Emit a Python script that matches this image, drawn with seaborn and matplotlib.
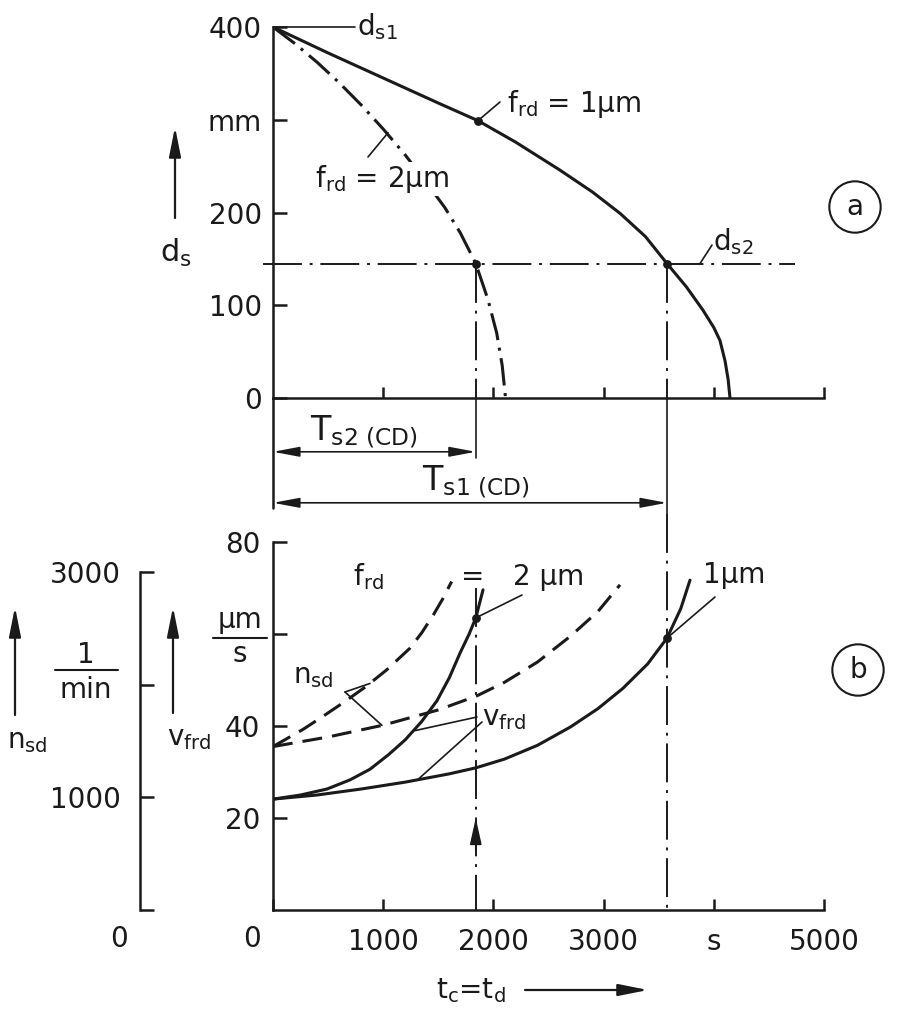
"""
Tool life plot: wheel diameter d_s over time (a) and feed / speed over time (b).
"""

import matplotlib
matplotlib.use('Agg')
import matplotlib.pyplot as plt
import seaborn as sns

# figure size in pixels
W, H = 903, 1024

# tool life end points and diameters
T_S2 = 1840
T_S1 = 3575
D_S1 = 400
D_S2 = 145

# (a) wheel diameter over time
t_ds_1um = [0, 500, 1000, 1500, 1860, 2200, 2600, 2900, 3150, 3380, 3575, 3750, 3900,
            4000, 4056, 4102, 4130, 4147]
ds_1um = [400, 372, 345, 318, 299, 276, 246, 222, 199, 174, 145, 120, 95,
          76, 62, 40, 20, 0]
t_ds_2um = [0, 200, 400, 600, 800, 1000, 1200, 1400, 1561, 1700, 1840, 1951, 2030,
            2080, 2110]
ds_2um = [400, 382, 362, 340, 316, 290, 262, 231, 205, 178, 145, 106, 70,
          35, 0]

# (b) feed rate v_frd [µm/s]
t_v_2um = [0, 250, 490, 700, 880, 1050, 1200, 1350, 1488, 1600, 1700, 1780, 1840, 1906]
v_2um = [24.1, 25.0, 26.3, 28.3, 30.6, 33.8, 37.0, 41.0, 45.5, 50.5, 56.0, 60.0, 63.5, 69.6]
t_v_1um = [0, 400, 800, 1200, 1600, 1840, 2100, 2400, 2700, 2950, 3176, 3400, 3575,
           3700, 3784]
v_1um = [24.1, 25.0, 26.3, 27.8, 29.6, 30.9, 32.8, 35.8, 39.8, 43.8, 48.2, 53.5, 59.1,
         65.5, 71.7]

# (b) wheel speed n_sd [1/min]
t_n_2um = [0, 275, 450, 638, 840, 1031, 1243, 1350, 1455, 1540, 1621]
n_2um = [1450, 1604, 1716, 1840, 1980, 2130, 2323, 2460, 2618, 2760, 2914]
t_n_1um = [0, 500, 1000, 1500, 1850, 2100, 2400, 2700, 2950, 3149]
n_1um = [1450, 1535, 1640, 1775, 1900, 2020, 2200, 2430, 2650, 2885]

# marked points
mark_top_t = [1860, T_S2, T_S1]
mark_top_d = [299, D_S2, D_S2]
mark_bot_t = [T_S2, T_S1]
mark_bot_v = [63.5, 59.1]

# ticks
t_ticks = [0, 1000, 2000, 3000, 4000, 5000]
t_ticklabels = ['', '1000', '2000', '3000', 's', '5000']
ds_ticks = [0, 100, 200, 300, 400]
ds_ticklabels = ['0', '100', '200', 'mm', '400']
v_ticks = [20, 40, 60, 80]
v_ticklabels = ['20', '40', '', '80']
n_ticks = [0, 1000, 2000, 3000]
n_ticklabels = ['', '1000', '', '3000']

sns.set_theme(style='white')
plt.rcParams['font.family'] = ['DejaVu Sans']
plt.rcParams['mathtext.default'] = 'regular'

lw = 2.2       # curves
lwAx = 1.8     # axes
lwThin = 1.2   # leaders, guide lines
fs = 20
DASHDOT = (0, (20, 4, 1.5, 4))
CURVE_DASHDOT = (0, (9, 2.5, 1, 2.5))
DASHED = (0, (6.5, 3.3))

fig = plt.figure(figsize=(W / 100, H / 100), dpi=100)
axT = fig.add_axes([273 / W, 1 - 398 / H, 551 / W, 371 / H])
axB = fig.add_axes([273 / W, 1 - 910 / H, 551 / W, 368 / H])
axN = axB.twinx()


def pix(x, y):
    """ top-left pixel position -> figure pixels """
    return (x, H - y)


def ftext(x, y, s, **kw):
    kw.setdefault('fontsize', fs)
    kw.setdefault('color', 'k')
    return fig.text(x / W, 1 - y / H, s, **kw)


def farrow(x0, y0, x1, y1, head=True, lwA=1.6):
    style = '-|>,head_length=0.9,head_width=0.18' if head else '-'
    axT.annotate('', xy=pix(x1, y1), xytext=pix(x0, y0), xycoords='figure pixels',
                 textcoords='figure pixels', annotation_clip=False,
                 arrowprops=dict(arrowstyle=style, lw=lwA, color='k',
                                 mutation_scale=20, shrinkA=0, shrinkB=0))


def leader(ax, xy, x1, y1):
    ax.annotate('', xy=xy, xytext=pix(x1, y1), textcoords='figure pixels',
                annotation_clip=False,
                arrowprops=dict(arrowstyle='-', lw=lwThin, color='k', shrinkA=0, shrinkB=0))


# ---------------- (a) ----------------
sns.lineplot(x=t_ds_1um, y=ds_1um, ax=axT, color='k', lw=lw, sort=False, estimator=None)
sns.lineplot(x=t_ds_2um, y=ds_2um, ax=axT, color='k', lw=lw, sort=False, estimator=None,
             linestyle=CURVE_DASHDOT)
sns.scatterplot(x=mark_top_t, y=mark_top_d, ax=axT, color='k', s=40, linewidth=0, zorder=5)

# guide lines
axT.plot([-91, 4737], [D_S2, D_S2], color='k', lw=1.4, linestyle=DASHDOT, clip_on=False)
axT.plot([T_S2, T_S2], [D_S2, 0], color='k', lw=1.4, linestyle=DASHDOT)
axT.plot([T_S1, T_S1], [D_S2, 0], color='k', lw=1.4, linestyle=DASHDOT)
axT.plot([T_S2, T_S2], [0, -65], color='k', lw=lwThin, clip_on=False)
axT.plot([T_S1, T_S1], [0, -125], color='k', lw=lwThin, clip_on=False)
axT.plot([0, 0], [0, -119], color='k', lw=lwAx, clip_on=False)
axT.plot([0, 82 / 110.2 * 1000], [D_S1, D_S1], color='k', lw=lwThin, clip_on=False)

# dimension arrows
for tEnd, yDim in [(T_S2, -58), (T_S1, -113)]:
    axT.annotate('', xy=(0, yDim), xytext=(tEnd, yDim), annotation_clip=False,
                 arrowprops=dict(arrowstyle='<|-|>,head_length=0.8,head_width=0.15',
                                 lw=lwThin, color='k', mutation_scale=20,
                                 shrinkA=0, shrinkB=0))

axT.set_xlim(0, 5000)
axT.set_ylim(0, 400)
axT.set_xticks(t_ticks[1:])
axT.set_xticklabels([])
axT.set_yticks(ds_ticks)
axT.set_yticklabels(ds_ticklabels)
axT.tick_params(axis='y', direction='in', length=10, width=lwAx, labelsize=fs, pad=8, left=True)
axT.tick_params(axis='x', direction='in', length=8, width=lwAx, bottom=True)

# ---------------- (b) ----------------
sns.lineplot(x=t_v_2um, y=v_2um, ax=axB, color='k', lw=lw, sort=False, estimator=None)
sns.lineplot(x=t_v_1um, y=v_1um, ax=axB, color='k', lw=lw, sort=False, estimator=None)
sns.scatterplot(x=mark_bot_t, y=mark_bot_v, ax=axB, color='k', s=40, linewidth=0, zorder=5)
sns.lineplot(x=t_n_2um, y=n_2um, ax=axN, color='k', lw=lw, sort=False, estimator=None,
             linestyle=DASHED)
sns.lineplot(x=t_n_1um, y=n_1um, ax=axN, color='k', lw=lw, sort=False, estimator=None,
             linestyle=DASHED)

axB.plot([T_S2, T_S2], [70, 0], color='k', lw=1.4, linestyle=DASHDOT)
axB.plot([T_S1, T_S1], [86, 0], color='k', lw=1.4, linestyle=DASHDOT, clip_on=False)
axB.annotate('', xy=(T_S2, 20), xytext=(T_S2, 13),
             arrowprops=dict(arrowstyle='-|>,head_length=0.9,head_width=0.2', lw=lwThin,
                             color='k', mutation_scale=18, shrinkA=0, shrinkB=0))

axB.set_xlim(0, 5000)
axB.set_ylim(0, 80)
axB.set_xticks(t_ticks)
axB.set_xticklabels(t_ticklabels)
axB.set_yticks(v_ticks)
axB.set_yticklabels(v_ticklabels)
axB.tick_params(axis='y', direction='in', length=10, width=lwAx, labelsize=fs, pad=9, left=True)
axB.tick_params(axis='x', direction='in', length=8, width=lwAx, labelsize=fs, pad=13, bottom=True)

axN.set_ylim(0, 3265)
axN.yaxis.tick_left()
axN.yaxis.set_label_position('left')
axN.set_yticks(n_ticks)
axN.set_yticklabels(n_ticklabels)
axN.spines['left'].set_visible(True)
axN.spines['left'].set_position(('axes', (140 - 273) / 551))
axN.spines['left'].set_bounds(0, 3000)
axN.tick_params(axis='y', direction='in', length=10, width=lwAx, labelsize=fs, pad=14,
                left=True, right=False)
axN.set_ylabel('')

for ax in [axT, axB, axN]:
    for side in ['top', 'right']:
        ax.spines[side].set_visible(False)
    for side in ['left', 'bottom']:
        ax.spines[side].set_linewidth(lwAx)
        ax.spines[side].set_color('k')
    ax.set_xlabel('')
    ax.tick_params(colors='k')
axN.spines['bottom'].set_visible(False)
axT.set_ylabel('')
axB.set_ylabel('')

# ---------------- texts (a) ----------------
ftext(357, 35, r'd$_{s1}$', va='baseline')
ftext(507, 112, r'f$_{rd}$ = 1µm', va='baseline')
leader(axT, (1860, 299), 500, 102)
ftext(315, 187, r'f$_{rd}$ = 2µm', va='baseline',
      bbox=dict(fc='white', ec='none', pad=1), zorder=6)
leader(axT, (1044, 286), 368, 157)
ftext(713, 250, r'd$_{s2}$', va='baseline')
leader(axT, (3875, D_S2), 712, 245)
ftext(855, 207, 'a', ha='center', va='center',
      bbox=dict(boxstyle='circle,pad=0.42', fc='white', ec='k', lw=1.5))
ftext(310, 440, r'T$_{s2\ (CD)}$', va='baseline', fontsize=24)
ftext(422, 490, r'T$_{s1\ (CD)}$', va='baseline', fontsize=24)
ftext(176, 253, r'd$_s$', ha='center', va='center', fontsize=22)
farrow(175, 218, 175, 127)

# ---------------- texts (b) ----------------
ftext(353, 585, r'f$_{rd}$', va='baseline')
ftext(473, 577, '=', ha='center', va='center')
ftext(513, 585, '2 µm', va='baseline')
leader(axB, (T_S2, 63.5), 522, 595)
ftext(703, 583, '1µm', va='baseline')
leader(axB, (T_S1, 59.1), 715, 597)
ftext(293, 683, r'n$_{sd}$', va='baseline')
leader(axN, (880, 2010), 345, 692)
leader(axN, (989, 1638), 345, 692)
ftext(482, 725, r'v$_{frd}$', va='baseline')
leader(axB, (1289, 39.0), 477, 717)
leader(axB, (1307, 28.2), 482, 722)
ftext(858, 670, 'b', ha='center', va='center',
      bbox=dict(boxstyle='circle,pad=0.42', fc='white', ec='k', lw=1.5))

# axis labels left
farrow(15, 715, 15, 607)
ftext(7, 748, r'n$_{sd}$', va='baseline')
ftext(86, 655, '1', ha='center', va='center')
farrow(55, 670, 118, 670, head=False, lwA=1.5)
ftext(86, 690, 'min', ha='center', va='center')
farrow(173, 713, 173, 607)
ftext(167, 745, r'v$_{frd}$', va='baseline')
ftext(240, 620, 'µm', ha='center', va='center')
farrow(213, 638, 267, 638, head=False, lwA=1.5)
ftext(240, 654, 's', ha='center', va='center')
ftext(119, 939, '0', ha='center', va='center')
ftext(252, 939, '0', ha='center', va='center')

# x label
ftext(436, 998, r't$_c$=t$_d$', va='baseline')
farrow(525, 990, 648, 990)

fig.savefig('out.png', dpi=100)
